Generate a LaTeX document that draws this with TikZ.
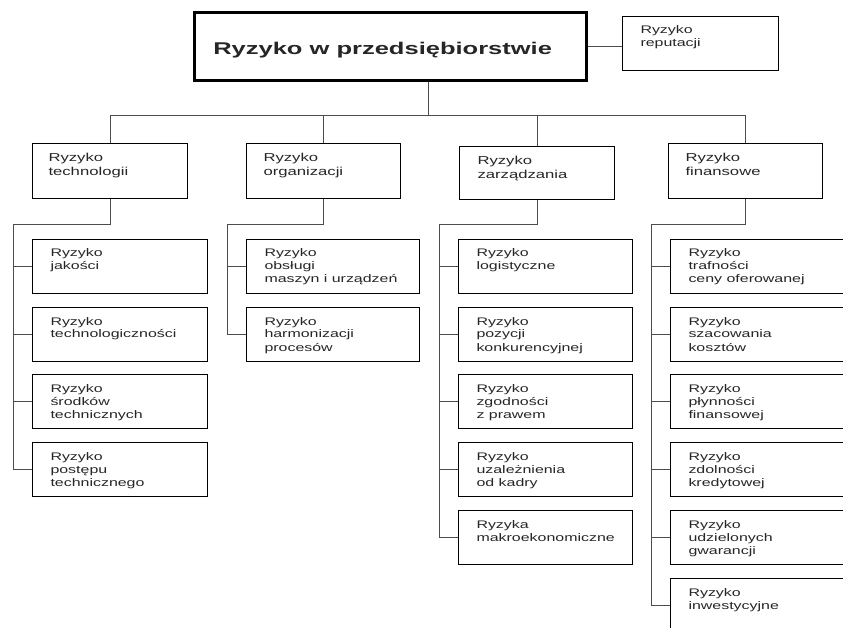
\documentclass[tikz,border=0pt]{standalone}
\usepackage{fontspec}
\setmainfont{Liberation Sans}
\newfontfamily\bxfont[FakeStretch=1.45]{Liberation Sans}
\newfontfamily\ttlfont[FakeStretch=1.5]{Liberation Sans}
% width, height, left inset, first baseline, text
\newcommand\bx[5]{\parbox[c][#2pt][t]{#1pt}{\leftskip=#3pt\rule{0pt}{#4pt}#5}}
\tikzset{
  rbox/.style={draw=black, line width=1pt, inner sep=0pt, anchor=north west,
    font={\bxfont\fontsize{11}{13}\selectfont}, text=black!85},
  lonebox/.style={rbox, font={\bxfont\fontsize{11.5}{14}\selectfont}},
  conn/.style={draw=black!70, line width=1pt},
}
\begin{document}
\begin{tikzpicture}[x=1pt, y=-1pt]
\useasboundingbox (0,0) rectangle (843,628);
\fill[white] (0,0) rectangle (843,628);
\clip (0,0) rectangle (843,628);
% top
\node[rbox, line width=2.6pt, font={\ttlfont\bfseries\fontsize{17}{20}\selectfont}] (main) at (193,11) {\bx{392}{68}{19}{42}{Ryzyko w przedsiębiorstwie}};
\node[rbox] (rep) at (622,16) {\bx{156}{54}{18}{17}{Ryzyko\\reputacji}};
% level 1
\node[lonebox] (tech) at (32,143) {\bx{155}{55}{16}{18.5}{Ryzyko\\technologii}};
\node[lonebox] (org) at (246,143) {\bx{154}{55}{17}{18.5}{Ryzyko\\organizacji}};
\node[lonebox] (zarz) at (459,146) {\bx{155}{53}{18}{18}{Ryzyko\\zarządzania}};
\node[lonebox] (fin) at (668,143) {\bx{154}{55}{17}{18.5}{Ryzyko\\finansowe}};
% column 1
\node[rbox] (t1) at (32,239) {\bx{175}{54}{18}{17.5}{Ryzyko\\jakości}};
\node[rbox] (t2) at (32,307) {\bx{175}{54}{18}{17.5}{Ryzyko\\technologiczności}};
\node[rbox] (t3) at (32,374) {\bx{175}{54}{18}{17.5}{Ryzyko\\środków\\technicznych}};
\node[rbox] (t4) at (32,442) {\bx{175}{54}{18}{17.5}{Ryzyko\\postępu\\technicznego}};
% column 2
\node[rbox] (o1) at (246,239) {\bx{173}{54}{18}{17.5}{Ryzyko\\obsługi\\maszyn i urządzeń}};
\node[rbox] (o2) at (246,307) {\bx{173}{54}{18}{17.5}{Ryzyko\\harmonizacji\\procesów}};
% column 3
\node[rbox] (z1) at (458,239) {\bx{174}{54}{18}{17.5}{Ryzyko\\logistyczne}};
\node[rbox] (z2) at (458,307) {\bx{174}{54}{18}{17.5}{Ryzyko\\pozycji\\konkurencyjnej}};
\node[rbox] (z3) at (458,374) {\bx{174}{54}{18}{17.5}{Ryzyko\\zgodności\\z prawem}};
\node[rbox] (z4) at (458,442) {\bx{174}{54}{18}{17.5}{Ryzyko\\uzależnienia\\od kadry}};
\node[rbox] (z5) at (458,510) {\bx{174}{54}{18}{17.5}{Ryzyka\\makroekonomiczne}};
% column 4
\node[rbox] (f1) at (670,239) {\bx{175}{54}{18}{17.5}{Ryzyko\\trafności\\ceny oferowanej}};
\node[rbox] (f2) at (670,307) {\bx{175}{54}{18}{17.5}{Ryzyko\\szacowania\\kosztów}};
\node[rbox] (f3) at (670,374) {\bx{175}{54}{18}{17.5}{Ryzyko\\płynności\\finansowej}};
\node[rbox] (f4) at (670,442) {\bx{175}{54}{18}{17.5}{Ryzyko\\zdolności\\kredytowej}};
\node[rbox] (f5) at (670,510) {\bx{175}{54}{18}{17.5}{Ryzyko\\udzielonych\\gwarancji}};
\node[rbox] (f6) at (670,578) {\bx{175}{54}{18}{17.5}{Ryzyko\\inwestycyjne}};
% connectors, top
\coordinate (bus) at (428,116);
\draw[conn] (main.south -| bus) -- (bus);
\draw[conn] (main.east) -- (rep.west |- main.east);
\draw[conn] (tech.north) -- (tech.north |- bus) -- (fin.north |- bus) -- (fin.north);
\draw[conn] (org.north) -- (org.north |- bus);
\draw[conn] (zarz.north) -- (zarz.north |- bus);
% spines
\coordinate (s1) at (13,225);
\coordinate (s2) at (227,225);
\coordinate (s3) at (439,225);
\coordinate (s4) at (651,225);
\draw[conn] (tech.south) |- (s1) -- (s1 |- t4.west) -- (t4.west);
\draw[conn] (org.south) |- (s2) -- (s2 |- o2.west) -- (o2.west);
\draw[conn] (zarz.south) |- (s3) -- (s3 |- z5.west) -- (z5.west);
\draw[conn] (fin.south) |- (s4) -- (s4 |- f6.west) -- (f6.west);
\foreach \c in {t1,t2,t3} \draw[conn] (s1 |- \c.west) -- (\c.west);
\draw[conn] (s2 |- o1.west) -- (o1.west);
\foreach \c in {z1,z2,z3,z4} \draw[conn] (s3 |- \c.west) -- (\c.west);
\foreach \c in {f1,f2,f3,f4,f5} \draw[conn] (s4 |- \c.west) -- (\c.west);
\end{tikzpicture}
\end{document}
